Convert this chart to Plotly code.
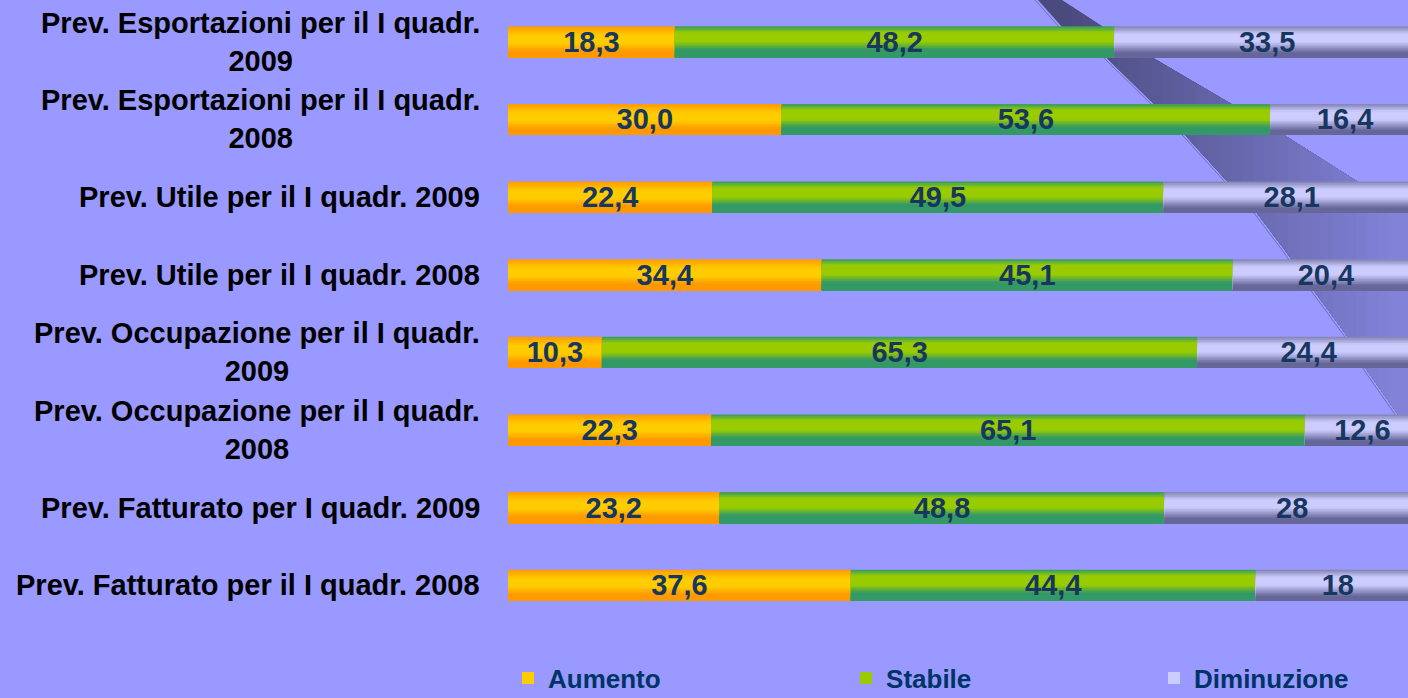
import plotly.graph_objects as go

# ---------------- data ----------------
categories = [
    "Prev. Esportazioni per il I quadr.<br>2009",
    "Prev. Esportazioni per il I quadr.<br>2008",
    "Prev. Utile per il I quadr. 2009",
    "Prev. Utile per il I quadr. 2008",
    "Prev. Occupazione per il I quadr.<br>2009",
    "Prev. Occupazione per il I quadr.<br>2008",
    "Prev. Fatturato per I quadr. 2009",
    "Prev. Fatturato per il I quadr. 2008",
]
aumento = [18.3, 30.0, 22.4, 34.4, 10.3, 22.3, 23.2, 37.6]
stabile = [48.2, 53.6, 49.5, 45.1, 65.3, 65.1, 48.8, 44.4]
diminuzione = [33.5, 16.4, 28.1, 20.4, 24.4, 12.6, 28, 18]
series_names = ["Aumento", "Stabile", "Diminuzione"]

# ---------------- styles ----------------
BG = "#9999FF"
LABEL_COLOR = "#17375E"
FONT = "Liberation Sans, Arial, sans-serif"
gradients = {
    "Aumento": [(0.0, "#FF9A00"), (0.3, "#FFCC00"), (0.55, "#FFCC00"), (0.8, "#FF9900"), (1.0, "#FF9900")],
    "Stabile": [(0.0, "#339966"), (0.2, "#99CC00"), (0.5, "#99CC00"), (0.75, "#339966"), (1.0, "#339966")],
    "Diminuzione": [(0.0, "#8080B0"), (0.25, "#CCCCFF"), (0.5, "#CCCCFF"), (0.85, "#666699"), (1.0, "#666699")],
}
legend_ids = {"Aumento": "legend", "Stabile": "legend2", "Diminuzione": "legend3"}
BAR_H = 0.40
N_STRIPES = 20


def hex2rgb(h):
    h = h.lstrip("#")
    return tuple(int(h[i:i + 2], 16) for i in (0, 2, 4))


def mix(c0, c1, f):
    a, b = hex2rgb(c0), hex2rgb(c1)
    return "rgb(%d,%d,%d)" % tuple(round(a[k] + (b[k] - a[k]) * f) for k in range(3))


def grad_color(stops, t):
    for (t0, c0), (t1, c1) in zip(stops[:-1], stops[1:]):
        if t0 <= t <= t1:
            f = 0 if t1 == t0 else (t - t0) / (t1 - t0)
            return mix(c0, c1, f)
    return stops[-1][1]


def fmt(v):
    return str(v).replace(".", ",")


fig = go.Figure()

series_values = [aumento, stabile, diminuzione]
base = [0.0] * len(categories)
for name, vals in zip(series_names, series_values):
    stops = gradients[name]
    h = BAR_H / N_STRIPES
    for i in range(N_STRIPES):
        t = (i + 0.5) / N_STRIPES
        fig.add_trace(go.Bar(
            y=categories, x=vals, base=base, orientation="h",
            width=BAR_H - i * h, offset=-BAR_H / 2,
            marker=dict(color=grad_color(stops, t), line=dict(width=0)),
            name=name, legendgroup=name, legend=legend_ids[name],
            showlegend=(i == int(N_STRIPES * 0.4)),
            hoverinfo="skip",
        ))
    # label trace
    fig.add_trace(go.Bar(
        y=categories, x=vals, base=base, orientation="h",
        width=BAR_H, offset=-BAR_H / 2,
        marker=dict(color="rgba(0,0,0,0)", line=dict(width=0)),
        text=[fmt(v) for v in vals], textposition="inside",
        insidetextanchor="middle", constraintext="none",
        textfont=dict(family=FONT, size=29, color=LABEL_COLOR, weight="bold"),
        showlegend=False, hoverinfo="skip",
    ))
    base = [b + v for b, v in zip(base, vals)]

# category labels (centered multi-line, right-anchored)
for c in categories:
    fig.add_annotation(
        x=-0.029, xref="paper", y=c, yref="y",
        text=c, showarrow=False, xanchor="right", yanchor="middle", align="center",
        font=dict(family=FONT, size=29, color="black", weight="bold"),
    )

# ---------------- decorative swoosh (background) ----------------
L, R, T, B = 508, 1408, 3, 624


def P(px, py):
    return "%.4f,%.4f" % ((px - L) / (R - L), (B - py) / (B - T))


left_edge = [(1033, -6), (1038, 0), (1062, 27), (1107, 58), (1155, 105), (1187, 137), (1228, 182),
             (1257, 213), (1285, 250), (1315, 292), (1348, 337), (1367, 370), (1397, 413), (1412, 436)]
right_edge = [(1058, -6), (1062, 0), (1103, 27), (1153, 58), (1233, 105), (1287, 137), (1358, 182),
              (1408, 205), (1420, 206)]
band_poly = right_edge + [(1420, 440)] + left_edge[::-1]


def clip_right_of(poly, xc):
    out = []
    n = len(poly)
    for k in range(n):
        p, q = poly[k], poly[(k + 1) % n]
        pin, qin = p[0] >= xc, q[0] >= xc
        if pin:
            out.append(p)
        if pin != qin:
            f = (xc - p[0]) / (q[0] - p[0])
            out.append((xc, p[1] + f * (q[1] - p[1])))
    return out


N_SLICES = 30
x_start, x_end = 1060, 1390
for k in range(N_SLICES):
    xc = 1000 if k == 0 else x_start + (x_end - x_start) * k / (N_SLICES - 1)
    poly = clip_right_of(band_poly, xc)
    if len(poly) < 3:
        continue
    f = k / (N_SLICES - 1)
    fig.add_shape(type="path", path="M" + " L".join(P(*p) for p in poly) + " Z",
                  xref="paper", yref="paper", layer="below",
                  fillcolor=mix("#4A4A7E", "#8282D8", f), line=dict(width=0))

edge_line = "M" + " L".join(P(x - 3, y) for x, y in left_edge)
fig.add_shape(type="path", path=edge_line, xref="paper", yref="paper", layer="below",
              line=dict(color="#7070B8", width=1))

# ---------------- layout ----------------
legend_common = dict(
    orientation="h", y=-0.087, yanchor="middle", xanchor="left",
    bgcolor="rgba(0,0,0,0)",
    font=dict(family=FONT, size=26, color="#003366", weight="bold"),
)

fig.update_layout(
    width=1408, height=698,
    paper_bgcolor=BG, plot_bgcolor="rgba(0,0,0,0)",
    margin=dict(l=508, r=0, t=3, b=74, autoexpand=False),
    barmode="overlay",
    showlegend=True,
    legend=dict(x=0.0, **legend_common),
    legend2=dict(x=0.3756, **legend_common),
    legend3=dict(x=0.7178, **legend_common),
    xaxis=dict(range=[0, 98.7], visible=False, showgrid=False, zeroline=False, fixedrange=True),
    yaxis=dict(categoryorder="array", categoryarray=categories[::-1], range=[-0.5, 7.5],
               showticklabels=False, showgrid=False, zeroline=False, showline=False, ticks="",
               fixedrange=True),
)

fig.write_html(
    "out.html",
    config={"displayModeBar": False},
    post_script="document.body.style.margin='0';document.body.style.padding='0';"
                "document.body.style.background='" + BG + "';"
                "document.body.style.overflow='hidden';",
)
